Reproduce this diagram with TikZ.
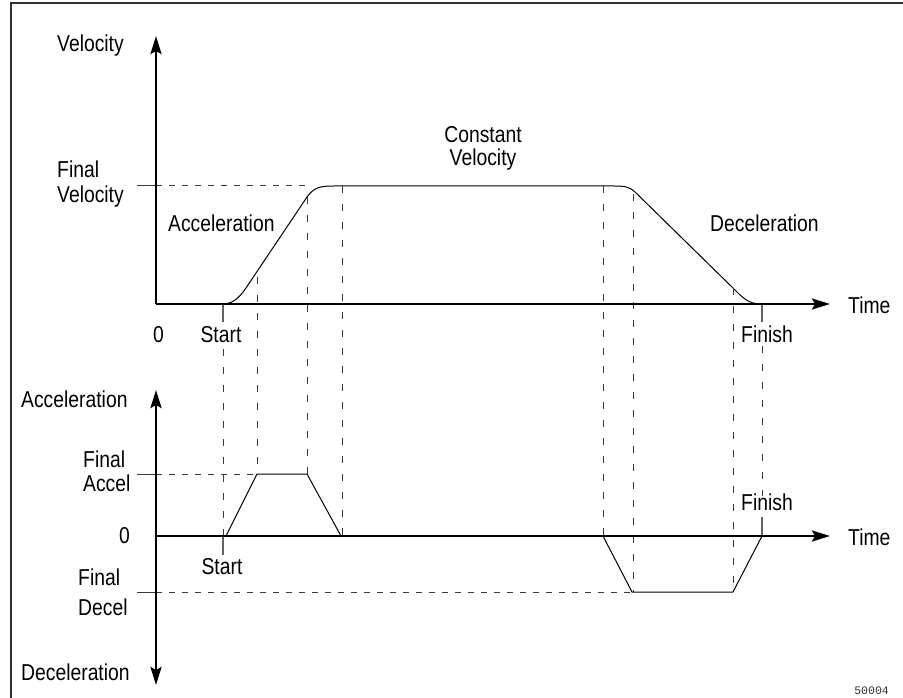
\documentclass[tikz,border=0pt]{standalone}
\usepackage{fontspec}
\setmainfont{Liberation Sans}[FakeStretch=0.84]
\newfontfamily\codefont{Liberation Mono}
\usetikzlibrary{arrows.meta}

\definecolor{guide}{HTML}{3A3A3A}
\definecolor{framecol}{HTML}{333333}

\tikzset{
  axis/.style={line width=2.8pt, -{Stealth[length=18pt,width=11pt,inset=3pt]}},
  biaxis/.style={line width=2.8pt, {Stealth[length=18pt,width=11pt,inset=3pt]}-{Stealth[length=18pt,width=11pt,inset=3pt]}},
  profile/.style={line width=1pt, black},
  guideline/.style={line width=1pt, guide, dash pattern=on 6pt off 7pt},
  vguide/.style={line width=1pt, guide, dash pattern=on 7pt off 11pt},
  marker/.style={line width=1.1pt, guide!80},
  tick/.style={line width=1pt, guide},
  lbl/.style={inner sep=0pt, font=\fontsize{23}{25}\selectfont, anchor=base west},
  lblc/.style={inner sep=0pt, font=\fontsize{23}{25}\selectfont, anchor=base},
}

\begin{document}
\begin{tikzpicture}[x=1pt,y=-1pt]
\useasboundingbox (0,0) rectangle (903,698);

% outer frame (top and left edges)
\draw[line width=1.3pt, framecol] (11,698) -- (11,3) -- (903,3);

% ---------------- velocity plot ----------------
\coordinate (vo) at (156,304);
\coordinate (vtop) at (156,36);
\coordinate (vend) at (830,304);
\coordinate (fvtick) at (137,186);
\coordinate (fvaxis) at (156,186);

% velocity profile points
\coordinate (s0) at (223,304);
\coordinate (s1) at (248,285);
\coordinate (s2) at (307,197);
\coordinate (s3) at (334,186);
\coordinate (s4) at (614,186);
\coordinate (s5) at (635,192);
\coordinate (s6) at (733,288);
\coordinate (s7) at (760,304);

\draw[tick] (fvtick) -- (fvaxis);
\draw[guideline] (fvaxis) -- (307,186);

\draw[profile] (s0) .. controls (235,304) and (242,294) .. (s1) -- (s2)
  .. controls (314,187) and (321,186) .. (s3) -- (s4)
  .. controls (625,186) and (630,187) .. (s5) -- (s6)
  .. controls (741,296) and (748,304) .. (s7);

% ---------------- acceleration plot ----------------
\coordinate (ao) at (156,536);
\coordinate (atop) at (156,390);
\coordinate (abot) at (156,685);
\coordinate (aend) at (830,536);
\coordinate (fatick) at (137,474);
\coordinate (faaxis) at (156,474);
\coordinate (fdtick) at (137,592);
\coordinate (fdaxis) at (156,592);

\coordinate (a0) at (226,536);
\coordinate (a1) at (257,474);
\coordinate (a2) at (307,474);
\coordinate (a3) at (341,536);
\coordinate (d0) at (603,536);
\coordinate (d1) at (632,592);
\coordinate (d2) at (733,592);
\coordinate (d3) at (762,536);

\draw[tick] (fatick) -- (faaxis);
\draw[guideline] (faaxis) -- (a1);
\draw[tick] (fdtick) -- (fdaxis);
\draw[guideline] (fdaxis) -- (d1);

% vertical guides linking both plots
\draw[marker] (s0) -- (223,322);
\draw[vguide] (223,349) -- (223,536);
\draw[marker] (223,536) -- (223,555);
\draw[vguide] (257,277) -- (a1);
\draw[vguide] (s2) -- (a2);
\draw[vguide] (342,186) -- (342,536);
\draw[vguide] (603,186) -- (d0);
\draw[vguide] (633,194) -- (633,592);
\draw[vguide] (s6) -- (d2);
\draw[marker] (762,304) -- (762,322);
\draw[vguide] (762,346) -- (762,496);
\draw[marker] (762,517) -- (d3);

\draw[profile] (a0) -- (a1) -- (a2) -- (a3);
\draw[profile] (d0) -- (d1) -- (d2) -- (d3);

% axes
\draw[axis] (vo) -- (vtop);
\draw[axis] (vo) -- (vend);
\draw[biaxis] (abot) -- (atop);
\draw[axis] (ao) -- (aend);

% ---------------- labels ----------------
\node[lbl] (lvel) at (57,52) {Velocity};
\node[lbl] (lfv1) at (57,178) {Final};
\node[lbl] (lfv2) at (57,203) {Velocity};
\node[lbl] (lacc) at (168,232) {Acceleration};
\node[lblc] (lcv1) at (483,143) {Constant};
\node[lblc] (lcv2) at (483,166) {Velocity};
\node[lbl] (ldec) at (710,232) {Deceleration};
\node[lbl] (ltime1) at (848,313) {Time};
\node[lbl] (lzero1) at (153,342) {0};
\node[lblc] (lstart1) at (221,342) {Start};
\node[lblc] (lfin1) at (767,342) {Finish};

\node[lbl] (lacc2) at (21,407) {Acceleration};
\node[lbl] (lfa1) at (83,467) {Final};
\node[lbl] (lfa2) at (83,491) {Accel};
\node[lbl] (lzero2) at (119,543) {0};
\node[lblc] (lstart2) at (222,574) {Start};
\node[lbl] (lfd1) at (78,585) {Final};
\node[lbl] (lfd2) at (78,615) {Decel};
\node[lbl] (ldec2) at (21,680) {Deceleration};
\node[lblc] (lfin2) at (767,510) {Finish};
\node[lbl] (ltime2) at (848,545) {Time};

\node[inner sep=0pt, anchor=base east, font=\codefont\fontsize{11.5}{12}\selectfont, text=black!80] (fignum) at (889,694) {50004};
\end{tikzpicture}
\end{document}
